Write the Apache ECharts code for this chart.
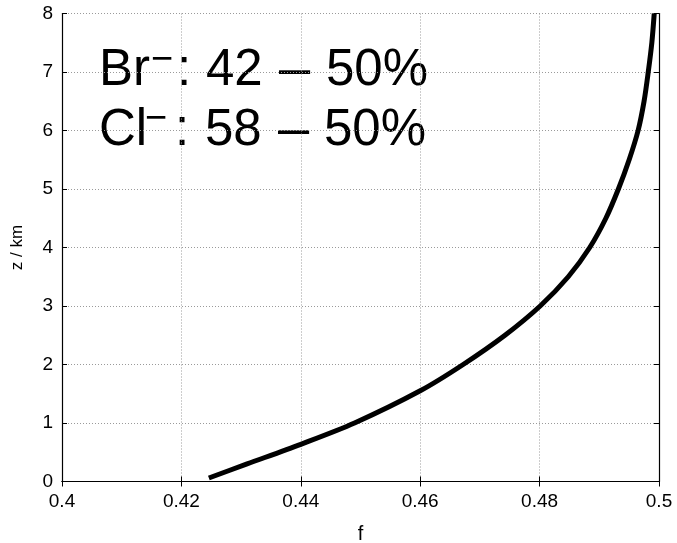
<!DOCTYPE html>
<html>
<head>
<meta charset="utf-8">
<script src="https://cdn.jsdelivr.net/npm/echarts@6/dist/echarts.min.js"></script>
<style>
  html, body { margin: 0; padding: 0; background: #fff; }
  #chart { width: 677px; height: 543px; }
</style>
</head>
<body>
<div id="chart"></div>
<script>
// Altitude profile of the bromide fraction f
const fValues = [0.4246, 0.4310, 0.4400, 0.4490, 0.4600, 0.4672, 0.4742, 0.4801,
                 0.4848, 0.4884, 0.4911, 0.4932, 0.4950, 0.4965, 0.4975, 0.4982, 0.4988, 0.4992];
const zValues = [0.06, 0.30, 0.636, 1.0, 1.55, 2.0, 2.5, 3.0,
                 3.5, 4.0, 4.5, 5.0, 5.5, 6.0, 6.5, 7.0, 7.5, 8.0];

const xTicks = { min: 0.4, max: 0.5, interval: 0.02 };
const yTicks = { min: 0, max: 8, interval: 1 };

const FONT = 'Liberation Sans, Arial, Helvetica, sans-serif';

const chart = echarts.init(document.getElementById('chart'), null, { renderer: 'canvas' });

const frame = { show: true, lineStyle: { color: '#000', width: 1.2 } };
const inTicks = { show: true, inside: true, length: 5, lineStyle: { color: '#000', width: 1 } };
const dotted = { show: true, lineStyle: { color: '#9a9a9a', width: 1, type: [1, 2] } };

function label(x, y, text, size) {
  return {
    type: 'text', x: x, y: y,
    style: { text: text, font: size + 'px ' + FONT, fill: '#000', verticalAlign: 'middle', align: 'left' }
  };
}

chart.setOption({
  animation: false,
  backgroundColor: '#fff',
  grid: { left: 62, right: 18, top: 13.5, bottom: 61.5, outerBoundsMode: 'none', containLabel: false },
  xAxis: [
    {
      type: 'value', min: xTicks.min, max: xTicks.max, interval: xTicks.interval,
      name: 'f', nameLocation: 'middle', nameGap: 43,
      nameTextStyle: { fontFamily: FONT, fontSize: 20, color: '#000' },
      axisLine: frame, axisTick: inTicks, splitLine: dotted,
      axisLabel: { fontFamily: FONT, fontSize: 19, color: '#000', margin: 11 }
    },
    {
      type: 'value', position: 'top', min: xTicks.min, max: xTicks.max, interval: xTicks.interval,
      axisLine: frame, axisTick: inTicks, splitLine: { show: false }, axisLabel: { show: false }
    }
  ],
  yAxis: [
    {
      type: 'value', min: yTicks.min, max: yTicks.max, interval: yTicks.interval,
      name: 'z / km', nameLocation: 'middle', nameGap: 36,
      nameTextStyle: { fontFamily: FONT, fontSize: 17, color: '#000' },
      axisLine: frame, axisTick: inTicks, splitLine: dotted,
      axisLabel: { fontFamily: FONT, fontSize: 19, color: '#000', margin: 9 }
    },
    {
      type: 'value', position: 'right', min: yTicks.min, max: yTicks.max, interval: yTicks.interval,
      axisLine: frame, axisTick: inTicks, splitLine: { show: false }, axisLabel: { show: false }
    }
  ],
  series: [{
    type: 'line',
    data: fValues.map((f, i) => [f, zValues[i]]),
    smooth: 0.3,
    showSymbol: false,
    clip: true,
    lineStyle: { color: '#000', width: 5 },
    z: 3
  }],
  graphic: [
    // ion composition annotation
    label(99, 71, 'Br', 51),
    label(151, 61, '\u2212', 38),
    label(177, 71, ':', 51),
    label(206, 71, '42', 51),
    label(279, 71, '\u2013', 56),
    label(326, 71, '50%', 51),
    label(99, 131, 'Cl', 51),
    label(145, 120, '\u2212', 38),
    label(175, 131, ':', 51),
    label(205, 131, '58', 51),
    label(278, 131, '\u2013', 56),
    label(324, 131, '50%', 51)
  ]
});
</script>
</body>
</html>
